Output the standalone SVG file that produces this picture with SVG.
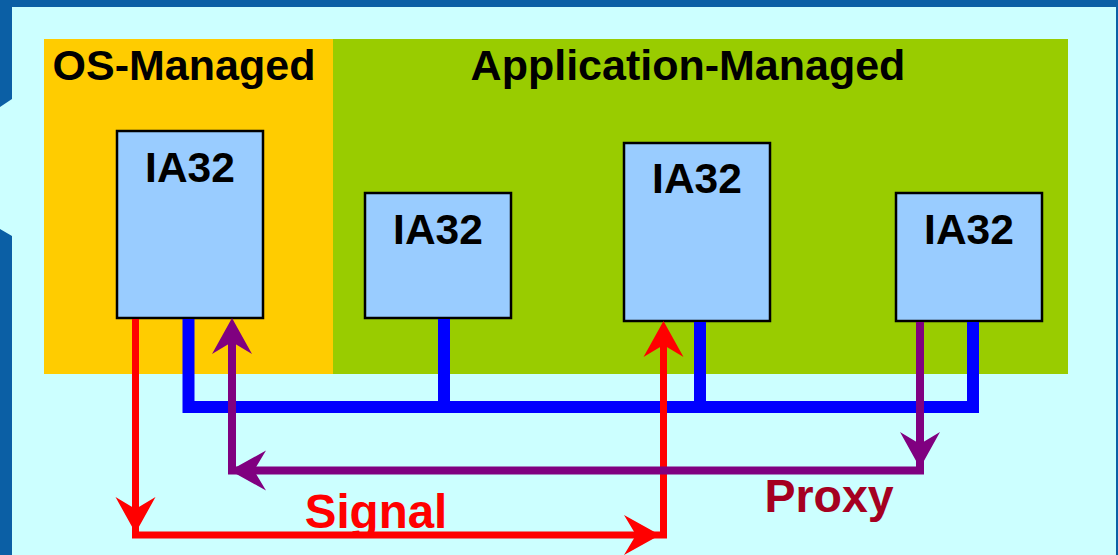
<svg xmlns="http://www.w3.org/2000/svg" xmlns:xlink="http://www.w3.org/1999/xlink" width="1118" height="555" viewBox="0 0 1118 555">
  <style>
    .lbl { font-family: "Liberation Sans", Arial, sans-serif; font-weight: bold; }
    .title { font-size: 43px; fill: #000000; text-anchor: middle; }
    .cpu { fill: #99CCFF; stroke: #000000; stroke-width: 2.5; }
    .cpu-t { font-size: 42.5px; fill: #000000; text-anchor: middle; }
    .conn { fill: none; stroke-linejoin: miter; }
  </style>
  <defs>
    <path id="ah" d="M0,0 L-36,-20 L-24,0 L-36,20 Z"/>
  </defs>

  <!-- frame -->
  <rect x="0" y="0" width="1118" height="555" fill="#0B5FA5"/>
  <polygon points="12,7 1116,7 1116,555 12,555 12,236 0,229 0,107 12,99" fill="#CCFFFF"/>

  <!-- regions -->
  <g id="os-managed">
    <rect x="44" y="39" width="289" height="335" fill="#FFCC00"/>
    <text class="lbl title" x="184" y="80">OS-Managed</text>
  </g>
  <g id="app-managed">
    <rect x="333" y="39" width="735" height="335" fill="#99CC00"/>
    <text class="lbl title" x="688" y="80">Application-Managed</text>
  </g>

  <!-- nodes -->
  <g id="ia32-os">
    <rect class="cpu" x="117" y="131" width="146" height="187"/>
    <text class="lbl cpu-t" x="190" y="182">IA32</text>
  </g>
  <g id="ia32-app1">
    <rect class="cpu" x="365" y="193" width="146" height="125"/>
    <text class="lbl cpu-t" x="438" y="244">IA32</text>
  </g>
  <g id="ia32-app2">
    <rect class="cpu" x="624" y="143" width="146" height="178"/>
    <text class="lbl cpu-t" x="697" y="193">IA32</text>
  </g>
  <g id="ia32-app3">
    <rect class="cpu" x="896" y="193" width="146" height="128"/>
    <text class="lbl cpu-t" x="969" y="244">IA32</text>
  </g>

  <!-- connectors -->
  <g id="connectors">
    <!-- bus -->
    <path class="conn" stroke="#0000FF" stroke-width="12" d="M188.5,319 V407 H973 V322"/>
    <path class="conn" stroke="#0000FF" stroke-width="12" d="M444,319 V407"/>
    <path class="conn" stroke="#0000FF" stroke-width="12" d="M700,322 V407"/>
    <!-- signal -->
    <path class="conn" stroke="#FF0000" stroke-width="7" d="M135.5,319 V535 H663.5 V335"/>
    <use xlink:href="#ah" fill="#FF0000" transform="translate(135.5,533) rotate(90)"/>
    <use xlink:href="#ah" fill="#FF0000" transform="translate(660,535)"/>
    <use xlink:href="#ah" fill="#FF0000" transform="translate(663.5,321) rotate(-90)"/>
    <!-- proxy -->
    <path class="conn" stroke="#800080" stroke-width="8" d="M920,322 V470.5 H232 V335"/>
    <use xlink:href="#ah" fill="#800080" transform="translate(920,468) rotate(90)"/>
    <use xlink:href="#ah" fill="#800080" transform="translate(230,470.5) rotate(180)"/>
    <use xlink:href="#ah" fill="#800080" transform="translate(232,318) rotate(-90)"/>
    <text class="lbl" x="376" y="528" font-size="47.5" fill="#FF0000" text-anchor="middle">Signal</text>
    <text class="lbl" x="829" y="512" font-size="46.5" fill="#A50021" text-anchor="middle">Proxy</text>
  </g>
</svg>
